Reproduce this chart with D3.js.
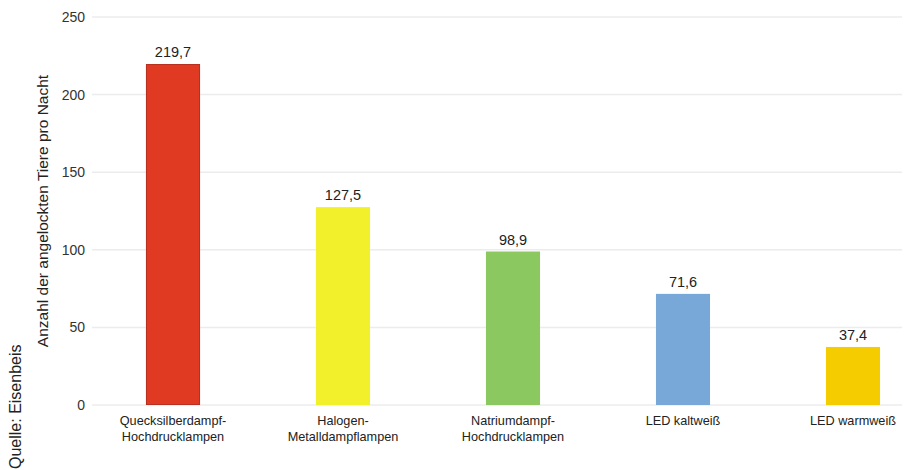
<!DOCTYPE html>
<html>
<head>
<meta charset="utf-8">
<script src="https://cdn.jsdelivr.net/npm/d3@7"></script>
<style>
  body { margin: 0; background: #fff; }
  svg { font-family: "Liberation Sans", Arial, sans-serif; }
</style>
</head>
<body>
<div id="wrapper"></div>
<script>
const categories = [
  ["Quecksilberdampf-", "Hochdrucklampen"],
  ["Halogen-", "Metalldampflampen"],
  ["Natriumdampf-", "Hochdrucklampen"],
  ["LED kaltweiß"],
  ["LED warmweiß"]
];
const values = [219.7, 127.5, 98.9, 71.6, 37.4];
const valueLabels = ["219,7", "127,5", "98,9", "71,6", "37,4"];
const barColors = ["#e03a22", "#f2f02a", "#8cc860", "#78a8d8", "#f4cc00"];
const yTicks = [0, 50, 100, 150, 200, 250];

const width = 909, height = 470;

const svg = d3.select("#wrapper").append("svg")
  .attr("width", width)
  .attr("height", height);

const yScale = d3.scaleLinear()
  .domain([0, 250])
  .range([405, 17]);

const xScale = d3.scaleBand()
  .domain(d3.range(values.length))
  .range([88, 938])
  .paddingInner(0.682)
  .paddingOuter(0.341);

// gridlines
svg.append("g")
  .selectAll("line")
  .data(yTicks)
  .join("line")
  .attr("x1", 92)
  .attr("x2", 902)
  .attr("y1", d => yScale(d))
  .attr("y2", d => yScale(d))
  .attr("stroke", "#ececec")
  .attr("stroke-width", 1.5);

// y axis labels
const yAxis = svg.append("g")
  .attr("transform", "translate(92,0)")
  .call(d3.axisLeft(yScale).tickValues(yTicks).tickSize(0).tickPadding(7));
yAxis.select(".domain").remove();
yAxis.selectAll("text")
  .attr("font-size", 14)
  .attr("fill", "#333")
  .attr("font-family", "Liberation Sans, Arial, sans-serif");

// bars
svg.append("g")
  .selectAll("rect")
  .data(values)
  .join("rect")
  .attr("x", (d, i) => xScale(i))
  .attr("width", xScale.bandwidth())
  .attr("y", d => yScale(d))
  .attr("height", d => yScale(0) - yScale(d))
  .attr("fill", (d, i) => barColors[i]);

// outline on the red bar
svg.append("rect")
  .attr("x", xScale(0) + 0.5)
  .attr("width", xScale.bandwidth() - 1)
  .attr("y", yScale(values[0]) + 0.5)
  .attr("height", yScale(0) - yScale(values[0]) - 1)
  .attr("fill", "none")
  .attr("stroke", "#b83020")
  .attr("stroke-width", 1);

// value labels
svg.append("g")
  .selectAll("text")
  .data(values)
  .join("text")
  .attr("x", (d, i) => xScale(i) + xScale.bandwidth() / 2)
  .attr("y", d => yScale(d) - 7)
  .attr("text-anchor", "middle")
  .attr("font-size", 14.5)
  .attr("fill", "#222")
  .text((d, i) => valueLabels[i]);

// category labels
const cat = svg.append("g")
  .selectAll("text")
  .data(categories)
  .join("text")
  .attr("x", (d, i) => xScale(i) + xScale.bandwidth() / 2)
  .attr("y", 425)
  .attr("text-anchor", "middle")
  .attr("font-size", 12.7)
  .attr("fill", "#222");
cat.selectAll("tspan")
  .data(d => d)
  .join("tspan")
  .attr("x", function() { return d3.select(this.parentNode).attr("x"); })
  .attr("dy", (d, i) => i === 0 ? 0 : 16)
  .text(d => d);

// y axis title
svg.append("text")
  .attr("transform", "translate(48,211) rotate(-90)")
  .attr("text-anchor", "middle")
  .attr("font-size", 15.5)
  .attr("fill", "#222")
  .text("Anzahl der angelockten Tiere pro Nacht");

// source
svg.append("text")
  .attr("transform", "translate(21,469) rotate(-90)")
  .attr("text-anchor", "start")
  .attr("font-size", 16)
  .attr("fill", "#222")
  .text("Quelle: Eisenbeis");
</script>
</body>
</html>
